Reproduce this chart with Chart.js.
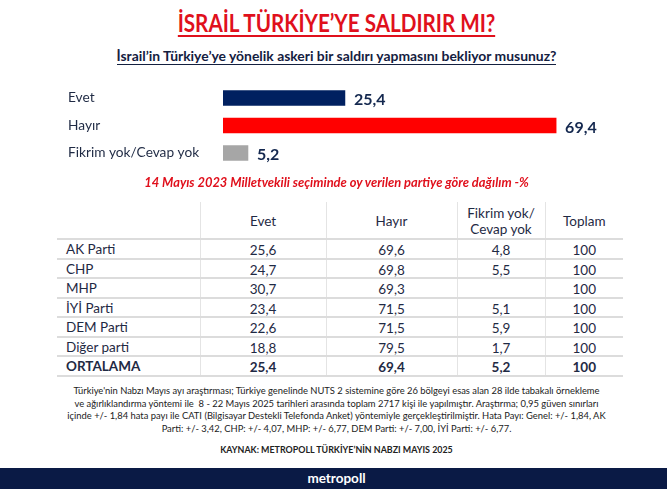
<!DOCTYPE html>
<html lang="tr">
<head>
<meta charset="utf-8">
<title>İsrail Türkiye'ye saldırır mı?</title>
<script src="https://cdn.jsdelivr.net/npm/chart.js@4"></script>
<style>
  html, body { margin: 0; padding: 0; background: #fff; }
  body { width: 667px; height: 489px; position: relative; overflow: hidden; font-family: Lato, "Noto Sans", sans-serif; color: #1f2a44; }
  .line { position: absolute; left: 3px; width: 667px; text-align: center; white-space: nowrap; }
  #title { top: 10px; font-size: 24px; line-height: 26px; font-weight: 700; color: #e0101c; transform: scaleX(0.86); }
  #title span { border-bottom: 2px solid #e0101c; display: inline-block; line-height: 24px; }
  #subtitle { top: 47px; font-size: 13.9px; line-height: 17px; font-weight: 700; color: #14203f; }
  #subtitle span { border-bottom: 1px solid #14203f; display: inline-block; line-height: 16px; }
  #note { top: 174px; font-size: 12.9px; line-height: 16px; font-weight: 700; font-style: italic; color: #e0101c; }
  #myChart { position: absolute; left: 0; top: 76px; }
  #dist { position: absolute; left: 57px; top: 202px; border-collapse: collapse; table-layout: fixed; width: 566px; font-size: 13.5px; }
  #dist td, #dist th { box-sizing: border-box; padding: 0; text-align: center; font-weight: 400; height: 19.5px; line-height: 14px; border-bottom: 2px solid #dcdcdc; border-left: 1px solid #e4e4e4; }
  #dist th { height: 37px; line-height: 16.5px; padding-top: 2px; }
  #dist td:first-child, #dist th:first-child { text-align: left; border-left: none; padding-left: 9px; }
  #dist td { padding-top: 3px; }
  #dist td:first-child { padding-top: 1px; }
  #dist tr.avg td { font-weight: 700; }
  #method { top: 385px; font-size: 9.4px; line-height: 12.5px; color: #222; }
  #source { top: 444px; font-size: 8.9px; line-height: 12px; font-weight: 700; color: #222; }
  #footer { position: absolute; left: 0; top: 468px; width: 667px; height: 21px; background: #0a1a45; color: #fff; text-align: center; text-indent: 6px; font-size: 13.5px; line-height: 20px; font-weight: 700; }
</style>
</head>
<body>
<div id="title" class="line"><span>İSRAİL TÜRKİYE’YE SALDIRIR MI?</span></div>
<div id="subtitle" class="line"><span>İsrail’in Türkiye’ye yönelik askeri bir saldırı yapmasını bekliyor musunuz?</span></div>
<canvas id="myChart" width="667" height="99"></canvas>
<div id="note" class="line">14 Mayıs 2023 Milletvekili seçiminde oy verilen partiye göre dağılım -%</div>
<table id="dist"></table>
<div id="method" class="line">Türkiye'nin Nabzı Mayıs ayı araştırması; Türkiye genelinde NUTS 2 sistemine göre 26 bölgeyi esas alan 28 ilde tabakalı örnekleme<br>ve ağırlıklandırma yöntemi ile&nbsp; 8 - 22 Mayıs 2025 tarihleri arasında toplam 2717 kişi ile yapılmıştır. Araştırma; 0,95 güven sınırları<br>içinde +/- 1,84 hata payı ile CATI (Bilgisayar Destekli Telefonda Anket) yöntemiyle gerçekleştirilmiştir. Hata Payı: Genel: +/- 1,84, AK<br>Parti: +/- 3,42, CHP: +/- 4,07, MHP: +/- 6,77, DEM Parti: +/- 7,00, İYİ Parti: +/- 6,77.</div>
<div id="source" class="line">KAYNAK: METROPOLL TÜRKİYE’NİN NABZI MAYIS 2025</div>
<div id="footer">metropoll</div>

<script>
//CHART DATA
const answers = ["Evet", "Hayır", "Fikrim yok/Cevap yok"];
const answerValues = [25.4, 69.4, 5.2];
const answerColours = ["#002060", "#ff0000", "#a6a6a6"];

//TABLE DATA
const tableHeaders = ["", "Evet", "Hayır", "Fikrim yok/<br>Cevap yok", "Toplam"];
const parties = ["AK Parti", "CHP", "MHP", "İYİ Parti", "DEM Parti", "Diğer parti", "ORTALAMA"];
const evet = [25.6, 24.7, 30.7, 23.4, 22.6, 18.8, 25.4];
const hayir = [69.6, 69.8, 69.3, 71.5, 71.5, 79.5, 69.4];
const fikrimYok = [4.8, 5.5, null, 5.1, 5.9, 1.7, 5.2];
const toplam = [100, 100, 100, 100, 100, 100, 100];

//NUMBERS USE A COMMA
const fmt = (v) => (v === null ? "" : v.toFixed(1).replace(".", ","));

//VALUE LABELS NEXT TO THE BARS
const valueLabels = {
  id: "valueLabels",
  afterDatasetsDraw(chart) {
    const ctx = chart.ctx;
    ctx.save();
    ctx.font = "700 16px Lato";
    ctx.fillStyle = "#14284f";
    ctx.textBaseline = "middle";
    chart.getDatasetMeta(0).data.forEach((bar, i) => {
      ctx.fillText(fmt(answerValues[i]), bar.x + 9, bar.y + 2);
    });
    ctx.restore();
  },
};

// RENDER CHART
new Chart(document.getElementById("myChart"), {
  type: "bar",
  data: {
    labels: answers,
    datasets: [
      {
        data: answerValues,
        backgroundColor: answerColours,
        barThickness: 15,
      },
    ],
  },
  options: {
    indexAxis: "y",
    responsive: false,
    animation: false,
    layout: { padding: { left: 68, right: 60, top: 0, bottom: 0 } },
    plugins: { legend: { display: false }, tooltip: { enabled: false } },
    scales: {
      x: { display: false, min: 0, max: 80 },
      y: {
        grid: { display: false },
        border: { display: false },
        afterFit(axis) {
          axis.width = 155;
        },
        ticks: {
          crossAlign: "far",
          padding: 0,
          color: "#1f2a44",
          font: { family: "Lato", size: 13.7 },
        },
      },
    },
  },
  plugins: [valueLabels],
});

//BUILD TABLE
let rows = "<colgroup><col style='width:143px'><col style='width:126px'><col style='width:131px'><col style='width:88px'><col style='width:78px'></colgroup>";
rows += "<tr>" + tableHeaders.map((h) => `<th>${h}</th>`).join("") + "</tr>";
parties.forEach((p, i) => {
  const cls = p === "ORTALAMA" ? " class='avg'" : "";
  rows += `<tr${cls}><td>${p}</td><td>${fmt(evet[i])}</td><td>${fmt(hayir[i])}</td><td>${fmt(fikrimYok[i])}</td><td>${toplam[i]}</td></tr>`;
});
document.getElementById("dist").innerHTML = rows;
</script>
</body>
</html>
